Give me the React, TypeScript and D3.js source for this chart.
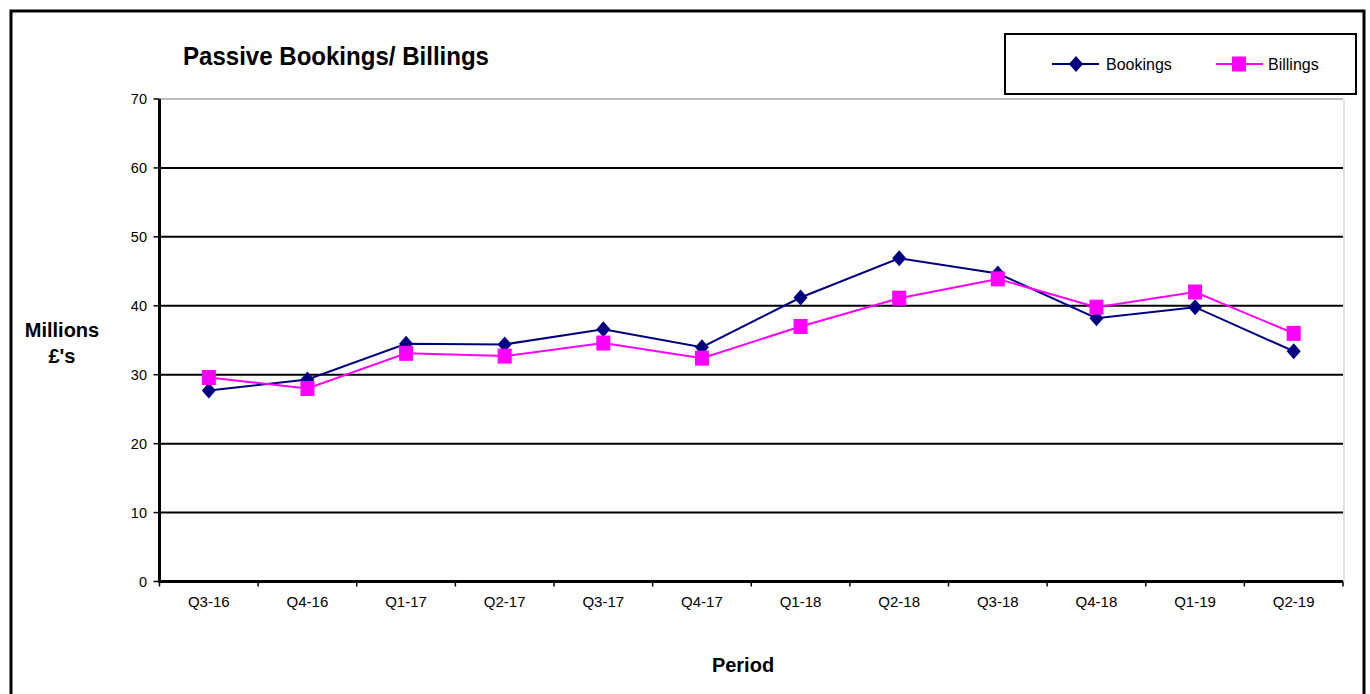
import React from 'react';
import * as d3 from 'd3';

// ---------------------------------------------------------------------------
// Data
// ---------------------------------------------------------------------------

const PERIODS = [
  'Q3-16', 'Q4-16', 'Q1-17', 'Q2-17', 'Q3-17', 'Q4-17',
  'Q1-18', 'Q2-18', 'Q3-18', 'Q4-18', 'Q1-19', 'Q2-19',
];

const BOOKINGS = [27.7, 29.3, 34.5, 34.4, 36.6, 34.0, 41.2, 46.9, 44.7, 38.2, 39.8, 33.4];
const BILLINGS = [29.6, 28.0, 33.1, 32.7, 34.6, 32.4, 37.0, 41.1, 43.9, 39.8, 42.0, 36.0];

const Y_TICKS = [0, 10, 20, 30, 40, 50, 60, 70];

// ---------------------------------------------------------------------------
// Styles
// ---------------------------------------------------------------------------

const NAVY = '#000080';
const MAGENTA = '#FF00FF';
const FONT = '"Liberation Sans", Arial, Helvetica, sans-serif';

const W = 1370;
const H = 694;
const plot = { left: 159.5, right: 1343, top: 99, bottom: 581.5 };

function Diamond({ x, y, fill }: { x: number; y: number; fill: string }) {
  const path = d3.path();
  path.moveTo(x, y - 8);
  path.lineTo(x + 7, y);
  path.lineTo(x, y + 8);
  path.lineTo(x - 7, y);
  path.closePath();
  return <path d={path.toString()} fill={fill} />;
}

function Square({ x, y, fill }: { x: number; y: number; fill: string }) {
  return <rect x={x - 7} y={y - 7.5} width={14} height={15} fill={fill} />;
}

export default function App() {
  const x = d3.scaleBand<string>().domain(PERIODS).range([plot.left, plot.right]).padding(0);
  const y = d3.scaleLinear().domain([0, 70]).range([plot.bottom, plot.top]);
  const cx = (p: string) => (x(p) ?? 0) + x.bandwidth() / 2;

  const line = d3.line<number>()
    .x((_d, i) => cx(PERIODS[i]))
    .y((d) => y(d));

  const boundaries = PERIODS.map((p) => x(p) ?? 0).concat([plot.right]);

  return (
    <div style={{ position: 'absolute', left: 0, top: 0 }}>
      <svg width={W} height={H} style={{ display: 'block', fontFamily: FONT }}>
        <rect x={0} y={0} width={W} height={H} fill="#fff" />

        {/* Outer frame (bottom edge lies off-page) */}
        <rect x={11} y={11} width={1353} height={720} fill="none" stroke="#000" strokeWidth={3} />

        {/* Title */}
        <text x={183} y={65} fontSize={25} fontWeight="bold" fill="#000" textLength={306} lengthAdjust="spacingAndGlyphs">
          Passive Bookings/ Billings
        </text>

        {/* Plot area border (top & right, gray) */}
        <line x1={plot.left} x2={plot.right} y1={plot.top} y2={plot.top} stroke="#a6a6a6" strokeWidth={1.5} />
        <line x1={plot.right + 1} x2={plot.right + 1} y1={plot.top} y2={plot.bottom} stroke="#d9d9d9" strokeWidth={1.5} />

        {/* Gridlines */}
        {Y_TICKS.filter((t) => t > 0 && t < 70).map((t) => (
          <line key={t} x1={plot.left} x2={plot.right} y1={y(t)} y2={y(t)} stroke="#000" strokeWidth={2} />
        ))}

        {/* Y axis */}
        <line x1={plot.left} x2={plot.left} y1={plot.top} y2={plot.bottom + 1.5} stroke="#000" strokeWidth={3} />
        {Y_TICKS.map((t) => (
          <g key={t}>
            <line x1={plot.left - 6} x2={plot.left} y1={y(t)} y2={y(t)} stroke="#000" strokeWidth={1.5} />
            <text x={147} y={y(t) + 5} fontSize={14.5} textAnchor="end" fill="#000">{t}</text>
          </g>
        ))}

        {/* X axis */}
        <line x1={plot.left - 1.5} x2={plot.right} y1={plot.bottom} y2={plot.bottom} stroke="#000" strokeWidth={3} />
        {boundaries.map((b, i) => (
          <line key={i} x1={b} x2={b} y1={plot.bottom} y2={plot.bottom + 5} stroke="#000" strokeWidth={1.5} />
        ))}
        {PERIODS.map((p) => (
          <text key={p} x={cx(p)} y={607} fontSize={15} textAnchor="middle" fill="#000">{p}</text>
        ))}

        {/* Axis titles */}
        <text x={62} y={337} fontSize={20} fontWeight="bold" textAnchor="middle" fill="#000">Millions</text>
        <text x={62} y={363} fontSize={20} fontWeight="bold" textAnchor="middle" fill="#000">£'s</text>
        <text x={743} y={672} fontSize={20} fontWeight="bold" textAnchor="middle" fill="#000">Period</text>

        {/* Series */}
        <path d={line(BOOKINGS) ?? ''} fill="none" stroke={NAVY} strokeWidth={2} />
        {BOOKINGS.map((v, i) => <Diamond key={i} x={cx(PERIODS[i])} y={y(v)} fill={NAVY} />)}
        <path d={line(BILLINGS) ?? ''} fill="none" stroke={MAGENTA} strokeWidth={2} />
        {BILLINGS.map((v, i) => <Square key={i} x={cx(PERIODS[i])} y={y(v)} fill={MAGENTA} />)}

        {/* Legend */}
        <rect x={1005} y={34} width={351} height={60} fill="#fff" stroke="#000" strokeWidth={2} />
        <line x1={1052} x2={1099} y1={64} y2={64} stroke={NAVY} strokeWidth={2} />
        <Diamond x={1076} y={64} fill={NAVY} />
        <text x={1106} y={70} fontSize={16} fill="#000">Bookings</text>
        <line x1={1216} x2={1263} y1={64} y2={64} stroke={MAGENTA} strokeWidth={2} />
        <Square x={1239} y={64} fill={MAGENTA} />
        <text x={1268} y={70} fontSize={16} fill="#000">Billings</text>
      </svg>
    </div>
  );
}
